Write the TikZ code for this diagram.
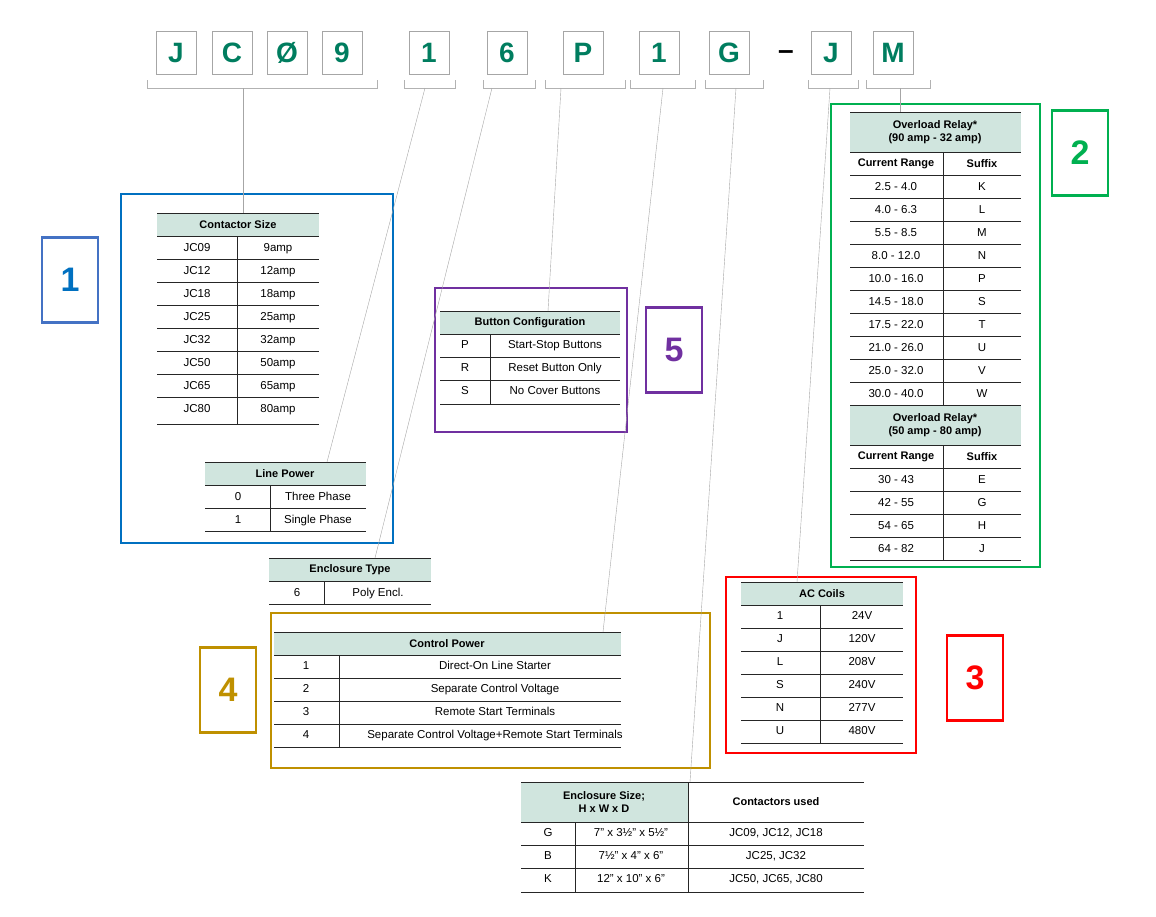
\documentclass[tikz,border=0pt]{standalone}
\usepackage{fontspec}
\setmainfont{Liberation Sans}
\definecolor{hdrfill}{RGB}{208,229,222}
\definecolor{codegreen}{RGB}{0,125,95}
\definecolor{cblue}{RGB}{0,112,192}
\definecolor{cblueb}{RGB}{68,114,196}
\definecolor{cgreen}{RGB}{0,176,80}
\definecolor{cred}{RGB}{255,0,0}
\definecolor{cgold}{RGB}{191,144,0}
\definecolor{cpurple}{RGB}{112,48,160}
\begin{document}
\begin{tikzpicture}[x=1pt,y=-1pt,
  letter/.style={draw=gray!70,thick,minimum width=40,minimum height=43,inner sep=0,font=\fontsize{28}{28}\selectfont\bfseries,text=codegreen},
  brk/.style={draw=gray!60,thin},
  lead/.style={draw=gray!70,thin},
  rule/.style={draw=black!85,line width=0.8pt},
  hd/.style={font=\fontsize{11}{13}\selectfont\bfseries,align=center,inner sep=0},
  cell/.style={font=\fontsize{11.5}{13}\selectfont,inner sep=0,text height=1.6ex,text depth=.3ex},
  frame/.style={line width=2.2pt},
  num/.style={draw,line width=2.2pt,minimum width=56,minimum height=85,inner sep=0,font=\fontsize{34}{34}\selectfont\bfseries}]
\useasboundingbox (0,0) rectangle (1156,916);

% code letters
\foreach \c/\x/\n in {J/176/lJ,C/232/lC,\O/287/lO,9/342/l9,1/429/lA,6/507/lB,P/583/lP,1/659/lD,G/729/lG,J/831/lK,M/893/lM}
  \node[letter] (\n) at (\x,53) {\c};
\node[font=\fontsize{28}{28}\selectfont\bfseries] (dash) at (786,55) {--};

% brackets
\foreach \a/\b/\m/\n in {147/377/243/b1,404/455/425/b2,483/535/492/b3,545/625/561/b4,630/695/663/b5,705/763/736/b6,808/858/830/b7,866/930/900/b8}{
  \draw[brk] (\a,80)--(\a,88)--(\b,88)--(\b,80);
  \coordinate (\n) at (\m,88);
}

% ---- Contactor Size
\fill[hdrfill] (157,213) rectangle (319,236);
\node[hd] (cs) at (238,225) {Contactor Size};
\foreach \y in {213,236,259,282,305,328,351,374,397,424} \draw[rule] (157,\y)--(319,\y);
\draw[rule] (237,236)--(237,424);
\foreach \a/\b [count=\i] in {JC09/9amp,JC12/12amp,JC18/18amp,JC25/25amp,JC32/32amp,JC50/50amp,JC65/65amp,JC80/80amp}{
  \node[cell] at (197,225+23*\i) {\a};
  \node[cell] at (278,225+23*\i) {\b};
}
% ---- Line Power
\fill[hdrfill] (205,462) rectangle (366,485);
\node[hd] (lp) at (285,474) {Line Power};
\foreach \y in {462,485,508,531} \draw[rule] (205,\y)--(366,\y);
\draw[rule] (270,485)--(270,531);
\node[cell] at (238,497) {0}; \node[cell] at (318,497) {Three Phase};
\node[cell] at (238,520) {1}; \node[cell] at (318,520) {Single Phase};
\draw[cblue,frame] (121,194) rectangle (393,543);
\node[num,draw=cblueb,text=cblue] (n1) at (70,280) {1};

% ---- Enclosure Type
\fill[hdrfill] (269,558) rectangle (431,581);
\node[hd] (et) at (350,570) {Enclosure Type};
\foreach \y in {558,581,604} \draw[rule] (269,\y)--(431,\y);
\draw[rule] (324,581)--(324,604);
\node[cell] at (297,593) {6}; \node[cell] at (378,593) {Poly Encl.};

% ---- Button Configuration
\fill[hdrfill] (440,311) rectangle (620,334);
\node[hd] (bc) at (530,323) {Button Configuration};
\foreach \y in {311,334,357,380,404} \draw[rule] (440,\y)--(620,\y);
\draw[rule] (490,334)--(490,404);
\foreach \a/\b [count=\i] in {P/Start-Stop Buttons,R/Reset Button Only,S/No Cover Buttons}{
  \node[cell] at (465,322+23*\i) {\a};
  \node[cell] at (555,322+23*\i) {\b};
}
\draw[cpurple,frame] (435,288) rectangle (627,432);
\node[num,draw=cpurple,text=cpurple] (n5) at (674,350) {5};

% ---- Overload Relay
\fill[hdrfill] (850,112) rectangle (1021,152);
\node[hd] (or1) at (935,132) {Overload Relay*\\(90 amp - 32 amp)};
\node[hd] at (896,164) {Current Range}; \node[hd] at (982,164) {Suffix};
\foreach \y in {112,152,175,198,221,244,267,290,313,336,359,382,405} \draw[rule] (850,\y)--(1021,\y);
\draw[rule] (943,152)--(943,405);
\foreach \a/\b [count=\i] in {2.5 - 4.0/K,4.0 - 6.3/L,5.5 - 8.5/M,8.0 - 12.0/N,10.0 - 16.0/P,14.5 - 18.0/S,17.5 - 22.0/T,21.0 - 26.0/U,25.0 - 32.0/V,30.0 - 40.0/W}{
  \node[cell] at (896,164+23*\i) {\a};
  \node[cell] at (982,164+23*\i) {\b};
}
\fill[hdrfill] (850,405.5) rectangle (1021,445);
\draw[rule] (850,405)--(1021,405);
\node[hd] (or2) at (935,425) {Overload Relay*\\(50 amp - 80 amp)};
\node[hd] at (896,457) {Current Range}; \node[hd] at (982,457) {Suffix};
\foreach \y in {445,468,491,514,537,560} \draw[rule] (850,\y)--(1021,\y);
\draw[rule] (943,445)--(943,560);
\foreach \a/\b [count=\i] in {30 - 43/E,42 - 55/G,54 - 65/H,64 - 82/J}{
  \node[cell] at (896,457+23*\i) {\a};
  \node[cell] at (982,457+23*\i) {\b};
}
\draw[cgreen,frame] (831,104) rectangle (1040,567);
\node[num,draw=cgreen,text=cgreen] (n2) at (1080,153) {2};

% ---- AC Coils
\fill[hdrfill] (741,582) rectangle (903,605);
\node[hd] (ac) at (822,594) {AC Coils};
\foreach \y in {582,605,628,651,674,697,720,743} \draw[rule] (741,\y)--(903,\y);
\draw[rule] (820,605)--(820,743);
\foreach \a/\b [count=\i] in {1/24V,J/120V,L/208V,S/240V,N/277V,U/480V}{
  \node[cell] at (780,593+23*\i) {\a};
  \node[cell] at (862,593+23*\i) {\b};
}
\draw[cred,frame] (726,577) rectangle (916,753);
\node[num,draw=cred,text=cred] (n3) at (975,678) {3};

% ---- Control Power
\fill[hdrfill] (274,632) rectangle (621,655);
\node[hd] (cp) at (447,644) {Control Power};
\foreach \y in {632,655,678,701,724,747} \draw[rule] (274,\y)--(621,\y);
\draw[rule] (339,655)--(339,747);
\foreach \a/\b [count=\i] in {1/Direct-On Line Starter,2/Separate Control  Voltage,3/Remote Start Terminals,4/Separate Control  Voltage+Remote Start Terminals}{
  \node[cell] at (306,643+23*\i) {\a};
  \node[cell] at (495,643+23*\i) {\b};
}
\draw[cgold,frame] (271,613) rectangle (710,768);
\node[num,draw=cgold,text=cgold] (n4) at (228,690) {4};

% ---- Enclosure Size
\fill[hdrfill] (521,782) rectangle (688,822);
\node[hd] (es) at (604,802) {Enclosure Size;\\H x W x D};
\node[hd] at (776,802) {Contactors used};
\foreach \y in {782,822,845,868,892} \draw[rule] (521,\y)--(864,\y);
\draw[rule] (688,782)--(688,892);
\draw[rule] (575,822)--(575,892);
\foreach \a/\b/\c [count=\i] in {G/{7" x 3\textonehalf" x 5\textonehalf"}/{JC09, JC12, JC18},B/{7\textonehalf" x 4" x 6"}/{JC25, JC32},K/{12" x 10" x 6"}/{JC50, JC65, JC80}}{
  \node[cell] at (548,810+23*\i) {\a};
  \node[cell] at (631,810+23*\i) {\b};
  \node[cell] at (776,810+23*\i) {\c};
}

% leaders
\draw[lead] (b1)--(243,213);
\draw[lead] (b2)--(327,462);
\draw[lead] (b3)--(375,558);
\draw[lead] (b4)--(548,311);
\draw[lead] (b5)--(603,632);
\draw[lead] (b6)--(690,782);
\draw[lead] (b7)--(797,582);
\draw[lead] (b8)--(900,112);
\end{tikzpicture}
\end{document}
